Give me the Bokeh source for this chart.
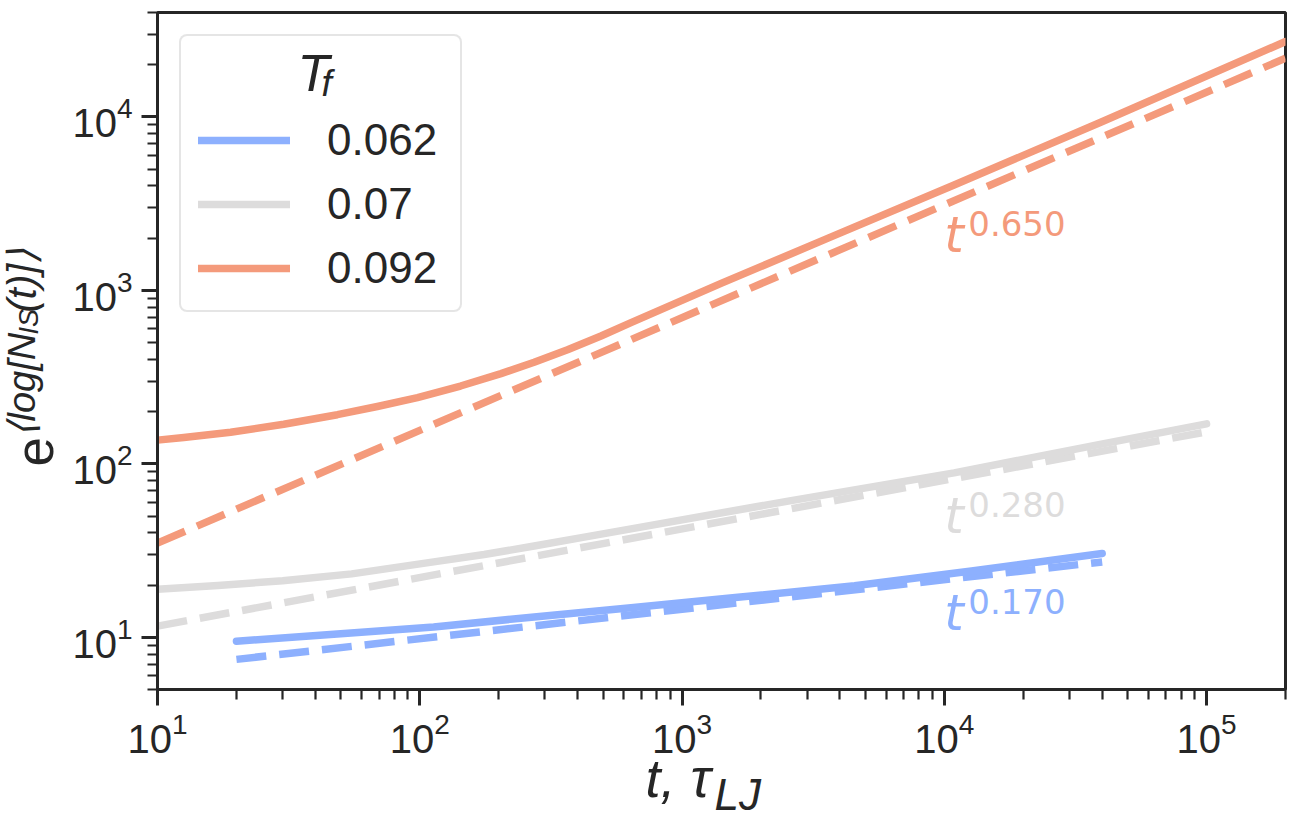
from bokeh.plotting import figure
from bokeh.models import Range1d, FixedTicker, Label, Legend, LegendItem, GridBox
from bokeh.embed import file_html
from bokeh.resources import INLINE

# ---- data ----
t_blue = [20, 47, 113, 273, 639, 1632, 4550, 12700, 40000]
n_blue = [9.5, 10.4, 11.45, 13.1, 14.8, 17.0, 19.8, 24.1, 30.4]
t_gray = [10, 17, 30, 55, 113, 176, 273, 424, 639, 2540, 10900, 39700, 100000]
n_gray = [18.9, 19.9, 21.2, 23.2, 27.2, 30.0, 33.6, 37.8, 42.2, 61.0, 88.7, 130, 170]
t_orange = [10, 12.6, 19, 30.3, 48.5, 68.9, 98, 143, 204, 273, 366, 491, 639, 1409,
            3606, 10900, 39700, 200000]
n_orange = [137, 142, 152, 169, 192, 214, 241, 281, 331, 385, 455, 546, 652, 1097,
            2000, 4050, 9354, 27200]

fit_t_blue = [20, 40000]
fit_n_blue = [7.46, 27.2]
fit_t_gray = [10, 100000]
fit_n_gray = [11.6, 153]
fit_t_orange = [10, 200000]
fit_n_orange = [34.9, 21800]

legend_labels = ["0.062", "0.07", "0.092"]
exponents = ["0.170", "0.280", "0.650"]
ann_t = [1e4, 1e4, 1e4]
ann_n = [10.98, 39.9, 1658]

x_major = [1e1, 1e2, 1e3, 1e4, 1e5]
y_major = [1e1, 1e2, 1e3, 1e4]

colors = ["#8db0fe", "#dddcdc", "#f49a7b"]
INK = "#262626"

x_minor = [m * d for d in [10, 100, 1000, 10000] for m in range(2, 10)] + [2e5]
y_minor = [5, 6, 7, 8, 9] + [m * d for d in [10, 100, 1000] for m in range(2, 10)] + [2e4, 3e4, 4e4]

W, H = 1295, 834
BASE = 0.27  # rendered baseline sits this fraction of the font size below the anchor

p = figure(width=W, height=H, x_axis_type="log", y_axis_type="log",
           x_range=Range1d(10, 2e5), y_range=Range1d(5, 4e4),
           output_backend="svg", toolbar_location=None,
           min_border_left=157, min_border_right=10, min_border_top=12, min_border_bottom=145)
p.background_fill_color = "white"
p.border_fill_color = "white"
p.xgrid.visible = False
p.ygrid.visible = False
p.outline_line_color = INK
p.outline_line_width = 3

p.xaxis.ticker = FixedTicker(ticks=x_major, minor_ticks=x_minor)
p.yaxis.ticker = FixedTicker(ticks=y_major, minor_ticks=y_minor)
for ax in (p.xaxis, p.yaxis):
    ax.axis_line_color = INK
    ax.axis_line_width = 3
    ax.major_tick_line_color = INK
    ax.major_tick_line_width = 3
    ax.minor_tick_line_color = INK
    ax.minor_tick_line_width = 2.2
    ax.major_tick_out = 16
    ax.major_tick_in = 0
    ax.minor_tick_out = 10
    ax.minor_tick_in = 0
    ax.major_label_text_font = "Liberation Sans"
    ax.major_label_text_font_size = "40px"
    ax.major_label_text_color = INK
p.xaxis.major_label_standoff = 6
p.yaxis.major_label_standoff = 9

series = [(t_blue, n_blue, fit_t_blue, fit_n_blue),
          (t_gray, n_gray, fit_t_gray, fit_n_gray),
          (t_orange, n_orange, fit_t_orange, fit_n_orange)]
items = []
for (tx, ny, ftx, fny), c, lab in zip(series, colors, legend_labels):
    p.line(ftx, fny, line_color=c, line_width=7.5, line_dash="30 13", line_cap="butt")
    r = p.line(tx, ny, line_color=c, line_width=7.5, line_cap="round", line_join="round")
    items.append(LegendItem(label=lab, renderers=[r]))

legend = Legend(items=items, location="top_left", margin=22, padding=17,
                glyph_width=92, glyph_height=50, label_height=50, label_width=116,
                label_standoff=37, spacing=14,
                label_text_font="Liberation Sans", label_text_font_size="44px",
                label_text_color=INK,
                title=" ", title_text_font_size="52px", title_standoff=2,
                border_line_color="#cccccc", border_line_width=2, border_radius=8,
                background_fill_color="white", background_fill_alpha=0.8)
p.add_layout(legend)

# power-law annotations (anchored in data space)
for tx, ny, ex, c in zip(ann_t, ann_n, exponents, colors):
    p.add_layout(Label(x=tx, y=ny, y_offset=round(BASE * 50) + 3, text="t",
                       text_font="DejaVu Sans", text_font_style="italic",
                       text_font_size="50px", text_baseline="alphabetic", text_color=c))
    p.add_layout(Label(x=tx, y=ny, x_offset=24, y_offset=20 + round(BASE * 34), text=ex,
                       text_font="DejaVu Sans", text_font_size="34px",
                       text_baseline="alphabetic", text_color=c))

# ---- transparent text layer on top (pixel coordinates, y up) ----
ov = figure(width=W, height=H, x_range=Range1d(0, W), y_range=Range1d(0, H),
            output_backend="svg", toolbar_location=None,
            x_axis_location=None, y_axis_location=None, min_border=0)
ov.background_fill_color = None
ov.border_fill_color = None
ov.outline_line_color = None
ov.xgrid.visible = False
ov.ygrid.visible = False
for fig in (p, ov):
    try:
        fig.frame_align = False
    except Exception:
        pass


def txt(x, y, s, size, style="normal", angle=0, font="Liberation Sans"):
    d = BASE * size
    if angle == 0:
        y = y + d
    else:
        x = x - d
    ov.add_layout(Label(x=x, y=y, text=s, text_font=font, text_font_style=style,
                        text_font_size=f"{size}px", angle=angle, angle_units="deg",
                        text_baseline="alphabetic", text_align="left", text_color=INK))


# legend title T_f  (positions: x = px from left, y = px from bottom)
txt(297, 747, "T", 52, "italic")
txt(321, 741, "f", 37, "italic")

# y axis label  e^{<log[N_IS(t)]>}
txt(48, 368, "e", 53, "normal", 90)
txt(32, 398, "\u27e8log[N", 38, "italic", 90)
txt(36, 500, "IS", 27, "italic", 90)
txt(32, 522, "(t)]\u27e9", 40, "italic", 90)

# x axis label  t, tau_LJ
txt(645, 42, "t,", 54, "italic")
txt(690, 42, "\u03c4", 54, "italic")
txt(714, 28, "LJ", 44, "italic")

layout = GridBox(children=[(p, 0, 0), (ov, 0, 0)])

open("out.html", "w").write(file_html(layout, INLINE))
